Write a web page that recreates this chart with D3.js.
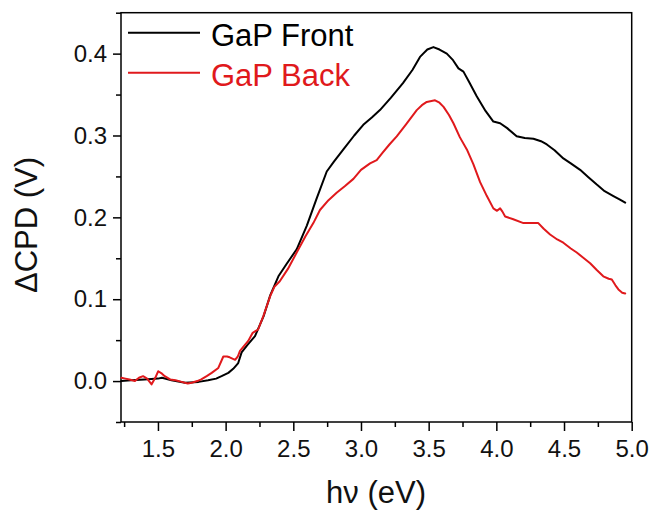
<!DOCTYPE html>
<html>
<head>
<meta charset="utf-8">
<script src="https://cdn.jsdelivr.net/npm/d3@7/dist/d3.min.js"></script>
<style>
  body { margin: 0; background: #fff; }
  svg { display: block; font-family: "Liberation Sans", Arial, sans-serif; }
  .tick text { font-size: 24px; font-family: "Liberation Sans", Arial, sans-serif; }
</style>
</head>
<body>
<div id="chart"></div>
<script>
// photon energy (eV) and ΔCPD (V)
var frontEnergy = [1.23, 1.30, 1.40, 1.50, 1.53, 1.60, 1.70, 1.80, 1.87, 1.93, 1.97, 2.02, 2.056, 2.093, 2.118, 2.16, 2.217, 2.28, 2.33, 2.39, 2.45, 2.525, 2.60, 2.67, 2.747, 2.80, 2.87, 2.95, 3.017, 3.08, 3.14, 3.22, 3.31, 3.38, 3.436, 3.49, 3.535, 3.58, 3.634, 3.68, 3.72, 3.757, 3.80, 3.855, 3.92, 3.978, 4.028, 4.08, 4.15, 4.21, 4.274, 4.33, 4.373, 4.43, 4.495, 4.55, 4.619, 4.68, 4.742, 4.80, 4.865, 4.91, 4.952];
var frontCPD = [0.000, 0.001, 0.002, 0.003, 0.004, 0.001, -0.002, -0.001, 0.001, 0.003, 0.006, 0.010, 0.015, 0.022, 0.035, 0.044, 0.055, 0.079, 0.105, 0.128, 0.143, 0.161, 0.190, 0.222, 0.256, 0.268, 0.283, 0.300, 0.313, 0.322, 0.331, 0.346, 0.364, 0.380, 0.396, 0.405, 0.408, 0.405, 0.400, 0.392, 0.382, 0.378, 0.365, 0.348, 0.330, 0.317, 0.315, 0.309, 0.299, 0.297, 0.296, 0.293, 0.289, 0.282, 0.272, 0.266, 0.258, 0.249, 0.240, 0.232, 0.226, 0.222, 0.218];

var backEnergy = [1.23, 1.26, 1.29, 1.33, 1.36, 1.39, 1.42, 1.453, 1.48, 1.502, 1.53, 1.55, 1.59, 1.63, 1.675, 1.72, 1.75, 1.79, 1.82, 1.86, 1.897, 1.946, 1.983, 2.01, 2.03, 2.07, 2.09, 2.106, 2.167, 2.20, 2.24, 2.28, 2.33, 2.36, 2.40, 2.46, 2.525, 2.59, 2.648, 2.697, 2.76, 2.82, 2.88, 2.944, 3.00, 3.067, 3.116, 3.16, 3.21, 3.264, 3.33, 3.412, 3.45, 3.486, 3.547, 3.58, 3.61, 3.65, 3.683, 3.73, 3.782, 3.83, 3.88, 3.93, 3.978, 4.005, 4.028, 4.045, 4.065, 4.12, 4.20, 4.25, 4.31, 4.35, 4.397, 4.45, 4.495, 4.55, 4.594, 4.64, 4.693, 4.74, 4.79, 4.83, 4.853, 4.88, 4.902, 4.93, 4.952];
var backCPD = [0.004, 0.003, 0.002, 0.000, 0.004, 0.006, 0.003, -0.004, 0.004, 0.012, 0.009, 0.006, 0.002, 0.001, -0.001, -0.003, -0.002, 0.000, 0.002, 0.006, 0.010, 0.016, 0.030, 0.030, 0.029, 0.026, 0.030, 0.037, 0.049, 0.059, 0.063, 0.080, 0.104, 0.115, 0.122, 0.137, 0.157, 0.177, 0.193, 0.209, 0.221, 0.230, 0.238, 0.247, 0.258, 0.266, 0.270, 0.279, 0.289, 0.299, 0.313, 0.331, 0.337, 0.341, 0.343, 0.340, 0.335, 0.325, 0.315, 0.298, 0.283, 0.265, 0.243, 0.226, 0.211, 0.208, 0.211, 0.207, 0.201, 0.198, 0.193, 0.193, 0.193, 0.186, 0.179, 0.173, 0.169, 0.162, 0.157, 0.151, 0.144, 0.136, 0.128, 0.125, 0.124, 0.117, 0.112, 0.108, 0.107];

var seriesNames = ["GaP Front", "GaP Back"];
var seriesColors = ["#000000", "#e0191c"];

var xTicks = [1.5, 2.0, 2.5, 3.0, 3.5, 4.0, 4.5, 5.0];
var xMinor = [1.25, 1.75, 2.25, 2.75, 3.25, 3.75, 4.25, 4.75];
var yTicks = [0.0, 0.1, 0.2, 0.3, 0.4];
var yMinor = [-0.05, 0.05, 0.15, 0.25, 0.35, 0.45];

var W = 651, H = 510;
var mLeft = 121, mRight = 631.7, mTop = 12.7, mBottom = 422;

var x = d3.scaleLinear().domain([1.227, 5.0]).range([mLeft, mRight]);
var y = d3.scaleLinear().domain([-0.05, 0.45]).range([mBottom, mTop]);

var svg = d3.select("#chart").append("svg").attr("width", W).attr("height", H);

// frame
svg.append("rect").attr("x", mLeft).attr("y", mTop)
    .attr("width", mRight - mLeft).attr("height", mBottom - mTop)
    .attr("fill", "none").attr("stroke", "#000").attr("stroke-width", 1.5);

// x axis
var gx = svg.append("g").attr("transform", "translate(0," + mBottom + ")")
    .call(d3.axisBottom(x).tickValues(xTicks).tickSize(9).tickSizeOuter(0).tickFormat(d3.format(".1f")));
gx.select(".domain").remove();
gx.selectAll("line").attr("stroke", "#000").attr("stroke-width", 1.5);
gx.selectAll("text").attr("y", 35).attr("dy", null).attr("fill", "#111");

var gxm = svg.append("g").attr("transform", "translate(0," + mBottom + ")")
    .call(d3.axisBottom(x).tickValues(xMinor).tickSize(5).tickSizeOuter(0).tickFormat(""));
gxm.select(".domain").remove();
gxm.selectAll("line").attr("stroke", "#000").attr("stroke-width", 1.5);

// y axis
var gy = svg.append("g").attr("transform", "translate(" + mLeft + ",0)")
    .call(d3.axisLeft(y).tickValues(yTicks).tickSize(8).tickPadding(6).tickSizeOuter(0).tickFormat(d3.format(".1f")));
gy.select(".domain").remove();
gy.selectAll("line").attr("stroke", "#000").attr("stroke-width", 1.5);
gy.selectAll("text").attr("fill", "#111");

var gym = svg.append("g").attr("transform", "translate(" + mLeft + ",0)")
    .call(d3.axisLeft(y).tickValues(yMinor).tickSize(5).tickSizeOuter(0).tickFormat(""));
gym.select(".domain").remove();
gym.selectAll("line").attr("stroke", "#000").attr("stroke-width", 1.5);

// curves
var line = d3.line()
    .x(function (d) { return x(d[0]); })
    .y(function (d) { return y(d[1]); });

var series = [d3.zip(frontEnergy, frontCPD), d3.zip(backEnergy, backCPD)];

series.forEach(function (s, i) {
    svg.append("path")
        .attr("d", line(s))
        .attr("fill", "none")
        .attr("stroke", seriesColors[i])
        .attr("stroke-width", 2)
        .attr("stroke-linejoin", "round")
        .attr("stroke-linecap", "round");
});

// legend
var legendY = [32.7, 72.7];
seriesNames.forEach(function (name, i) {
    svg.append("line").attr("x1", 128).attr("x2", 200)
        .attr("y1", legendY[i]).attr("y2", legendY[i])
        .attr("stroke", seriesColors[i]).attr("stroke-width", 2);
    svg.append("text").attr("x", 211).attr("y", legendY[i] + 13)
        .attr("font-size", 31).attr("fill", seriesColors[i])
        .text(name);
});

// axis titles
svg.append("text").attr("x", 376).attr("y", 503)
    .attr("text-anchor", "middle").attr("font-size", 31).attr("fill", "#111")
    .text("hν (eV)");

svg.append("text").attr("transform", "translate(37,225) rotate(-90)")
    .attr("text-anchor", "middle").attr("font-size", 31).attr("fill", "#111")
    .text("ΔCPD (V)");
</script>
</body>
</html>
